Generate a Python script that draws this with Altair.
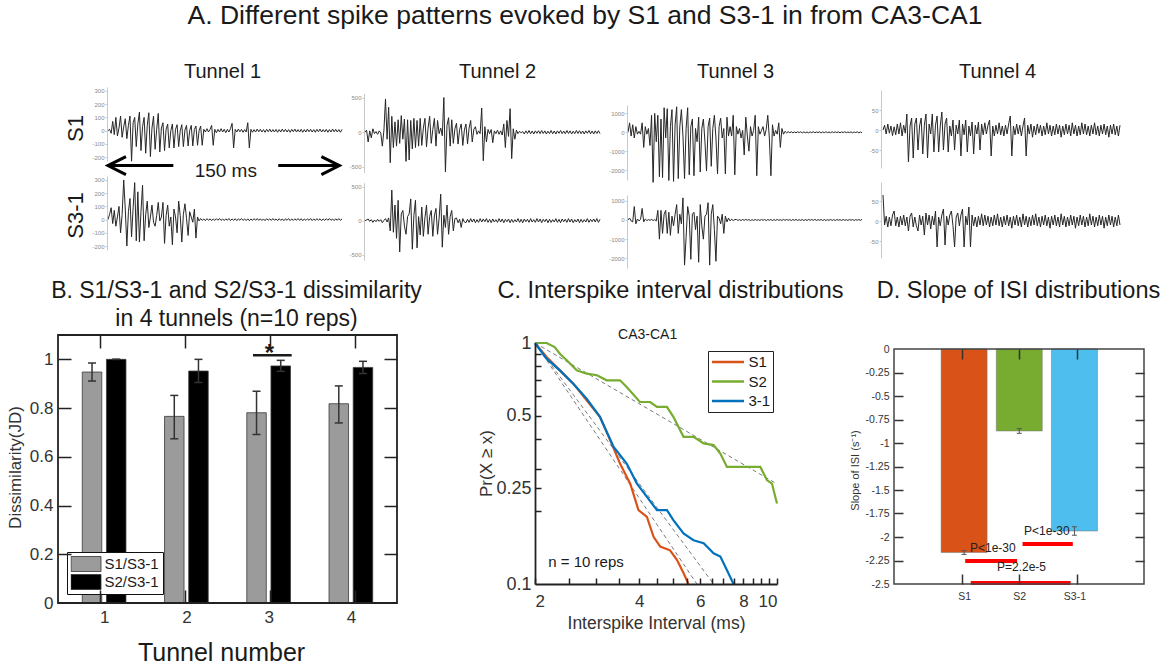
import altair as alt
import pandas as pd

FONT = "Liberation Sans"
W, H, TOP = 1170, 666, 40
INK = "#1a1a1a"

# ================= Panel A data: traces, one sample per ms (0-149 ms) =================
t1_s1 = [
    0, 10, -20, 70, -30, 100, -40, 20, 110, -50, 30, 90, -60, 40, 110,
    -230, 60, 100, -120, 50, 140, -150, 30, 100, -170, 40, 135, -195, 20, 110,
    -140, 10, 130, -160, 20, 60, -150, 10, 50, -130, 0, 50, -130, 10, 45,
    -120, 0, 45, -120, 5, 40, -115, 0, 40, -115, 10, 35, -110, 0, 35, -110,
    10, -10, 15, -10, 10, 40, -110, 10, -15, 10, -10, 15, -10, 10, -15,
    10, -10, 15, 55, -130, 10, -10, 12, -8, 10, -12, 8, -10, 60, -130,
    10, -12, 8, -10, 12, -8, 10, -10, 8, -12, 10, -8, 12, -10, 8,
    -10, 10, -12, 8, -10, 12, -8, 10, -10, 8, -12, 10, -8, 12, -10,
    8, -10, 10, -12, 8, -10, 12, -8, 10, -10, 8, -12, 10, -8, 12,
    -10, 8, -10, 10, -12, 8, -10, 12, -8, 10, -10, 8, -12, 10,
]
t1_s3 = [
    0, 40, 90, -30, 70, -50, 20, 100, -100, 40, 300, 80, -200, 60, 160,
    -130, 90, 280, -160, 210, -170, 60, 260, -160, 40, 140, -60, 20, 110, -20,
    -50, 30, 130, -10, 20, 130, -180, 30, 110, -50, 20, -190, 80, 20, -100,
    140, 30, -170, 40, 120, 10, -120, 60, 20, -20, 80, -140, 20, -10,
    8, -6, 5, -8, 7, -5, 6, -8, 5, -6, 7, -5, 8, -6, 5, -7, 6, -5, 8, -7,
    5, -6, 7, -8, 6, -5, 8, -6, 5, -7, 6, -8, 5, -6, 7, -5, 8, -6, 6, -7,
    5, -8, 7, -5, 6, -6, 8, -5, 5, -7, 7, -6, 5, -8, 6, -5, 8, -7, 5, -6,
    6, -5, 8, -6, 7, -8, 5, -6, 6, -5, 8, -7, 5, -6, 7, -5, 6, -8, 5, -6,
    7, -5, 8, -6, 5, -7, 6, -5, 8, -6, 5,
]
t2_s1 = [
    0, 30, -140, 20, -80, 50, -20, 10, -30, 20, -10, -200, 30, 480, -100,
    360, -440, 230, -220, 150, -200, 180, -160, 240, -100, 190, -420, 180, -400, 170,
    -240, 200, -220, 170, -200, 200, -190, 60, 200, -210, 60, 230, -160, 40, 200,
    -200, 170, -20, 60, -50, 500, -570, 100, 210, -200, 180, -160, 50, 130, -170,
    40, 120, -190, 30, 120, -170, 60, 170, -140, 40, 80, -30, 20, -20, 350,
    -410, 80, -140, 40, -20, 40, -150, 20, -20, 30, -30, 20, -40, 120, -220,
    170, -60, 340, -380, 50, -100, 30, -20, 15, -10, 10,
    -25, 20, -18, 25, -22, 18, -25, 20, -15, 22, -20, 25, -18, 20, -25, 15, -20,
    25, -22, 18, -25, 20, -15, 25, -20, 18, -22, 25, -18, 20, -25, 15, -20, 25,
    -18, 22, -20, 18, -25, 20, -15, 25, -22, 18, -25, 20, -18, 22, -20,
]
t2_s3 = [
    0, 10, 25, -10, 15, -25, 10, -15, 20, -10, 15, -30, 5, 30, -20,
    40, -150, 450, -170, 230, -260, 300, -460, 100, 150, -80, -200, 60, 100, 320,
    -420, 80, 300, -400, 60, -210, 200, -230, 40, 230, -200, 60, 150, -230, 70,
    180, -200, 40, 390, -390, 80, -100, 230, -200, 60, 150, -150, 30, 40, -30,
    20, -100, 30, -20,
    -30, 20, -25, 30, -20, 25, -30, 15, -25, 30, -20, 25, -15, 30, -25, 20, -30,
    25, -20, 15, -25, 30, -20, 25, -30, 20, -15, 25, -30, 20, -25, 15, -20, 30,
    -25, 20, -30, 25, -15, 20, -25, 30, -20, 15, -25, 30, -20, 25, -30, 20, -15,
    25, -30, 20, -25, 15, -20, 30, -25, 20, -30, 25, -15, 20, -25, 30, -20, 25,
    -30, 15, -20, 25, -30, 20, -25, 15, -20, 30, -25, 20, -15, 25, -20, 30, -25, 20,
]
t3_s1 = [
    0, 500, -200, 400, -300, 300, -100, 50, -100, 500, -800, 300, -100, 200, -700,
    900, -2650, 1000, -500, 900, -2350, 700, -2400, 1300, -300, 1250, -2550, 300, 1200, -2600,
    400, 1350, -2450, 300, 1200, -200, -2450, 200, 1300, -2250, 300, 700, -2300, 200, -500,
    800, -2100, 200, 700, -500, -2050, 300, 750, -1800, 200, 900, -300, -2200, 300, 750,
    -300, 200, -2200, 800, -200, 300, -200, 900, -2250, 300, -100, 200, -300, 100, -1200,
    800, -200, -1000, 300, -200, 100, 900, -2300, 300, -100, 100, 300, -200, 150, 900,
    -300, -2300, 400, -200, 100, -100, 500, -800, 200, -100, 50, -30,
    30, -20, 25, -30, 20, -25, 30, -15, 25, -30, 20, -25, 15, -30, 25, -20,
    30, -25, 20, -15, 25, -30, 20, -25, 30, -20, 15, -25, 30, -20, 25, -15,
    20, -30, 25, -20, 30, -25, 15, -20, 25, -30, 20, -15, 25, -30, 20, -25,
]
t3_s3 = [
    0, 100, -50, -100, 700, -200, 50, -50, 30, 600, -100, 50, -30, 20, -20,
    30, -30, 20, -50, 500, -1000, 500, -700, 300, 500, -700, 400, -800, 200, -300,
    300, 800, -700, 300, -200, 1150, -2350, -900, 700, 200, -2050, 300, 400, -500, 200,
    -2200, 800, -300, -1000, 200, 300, 900, -2350, 300, 800, -500, -2150, 200, 100, -200,
    300, -700, 200, -100, 100, -50, 40, -30, 20,
    30, -25, 20, -30, 25, -20, 30, -15, 25, -30, 20, -25, 30, -20, 15, -25, 30,
    -20, 25, -30, 20, -15, 25, -30, 20, -25, 30, -20, 15, -25, 30, -20, 25, -15,
    20, -30, 25, -20, 30, -25, 15, -20, 25, -30, 20, -25, 30, -15, 25, -20, 30,
    -25, 20, -15, 25, -30, 20, -25, 15, -20, 30, -25, 20, -30, 25, -15, 20, -25,
    30, -20, 15, -25, 30, -20, 25, -30, 20, -15, 25, -20, 30,
]
t4_s1 = [
    0, 12, -10, 15, -8, 10, -14, 8, -12, 15, -10, 18, -15, 12, -8,
    40, -80, 10, 30, -70, 15, 30, -50, 10, 30, -60, 12, 40, -70, 15,
    -10, 40, -55, 12, 35, -55, 10, 45, -50, 15, 30, -55, 10, -15, 25,
    -50, 12, -10, 25, -65, 15, -12, 25, -55, 10, -15, 20, -60, 12, -10,
    20, -50, 15, -12, 18, -10, 12, 25, -65, 10, -15, 12, -10, 18, -12,
    10, -15, 12, -10, 15, 35, -65, 10, -12, 15, -10, 12, -15, 10, 30,
    -65, 12, -10, 15, -18, 10, -12, 15, -8, 12, -15, 10, -12, 18, -10,
    12, -15, 10, -12, 15, -10, 12, -18, 10, -12, 15, -10, 12, -15, 18,
    -10, 12, -15, 10, -12, 18, -10, 15, -12, 10, -15, 12, -10, 18, -12,
    10, -15, 12, -10, 15, -12, 10, -18, 12, -10, 15, -12, 10, -15, 12,
]
t4_s3 = [
    65, -10, 12, -15, 10, -12, 15, 25, -12, 10, -15, 12, -10, 15, -12,
    10, -25, 12, 20, -15, 10, -12, -25, 15, -10, 12, -35, 20, -10, 15,
    -20, 12, -10, 25, -65, 10, -12, 15, 30, -60, 12, -10, 15, 25, -12,
    -65, 10, 20, -12, 15, 30, -65, 12, -10, 35, -65, 15, -12, 10, -15,
    12, -10, 18, -12, 15, -10, 12, -15, 10, -12, 15, -10, 18, -12, 10,
    -15, 12, -10, 15, -12, 10, -18, 12, -10, 15, -12, 10, -15, 18, -10,
    12, -15, 10, -12, 15, -10, 18, -12, 10, -15, 12, -10, 15, -12, 10,
    -18, 12, -10, 15, -12, 10, -15, 18, -10, 12, -15, 10, -12, 15, -10,
    12, -18, 10, -12, 15, -10, 12, -15, 10, -12, 18, -10, 12, -15, 10,
    -12, 15, -10, 12, -18, 10, -12, 15, -10, 12, -15, 10, -12, 15, -10,
]
t1_ticks = [300, 200, 100, 0, -100, -200]
t2_ticks = [500, 0, -500]
t3_ticks = [1000, 0, -1000, -2000]
t4_ticks = [50, 0, -50]
tunnel_titles = ["Tunnel 1", "Tunnel 2", "Tunnel 3", "Tunnel 4"]
row_titles = ["S1", "S3-1"]
arrow_label = "150 ms"

# ================= Panel B data =================
tunnels = [1, 2, 3, 4]
b_series = ["S1/S3-1", "S2/S3-1"]
b_s1_mean = [0.948, 0.766, 0.781, 0.818]
b_s1_lo = [0.911, 0.674, 0.692, 0.739]
b_s1_hi = [0.985, 0.852, 0.869, 0.891]
b_s2_mean = [1.0, 0.952, 0.973, 0.967]
b_s2_lo = [1.0, 0.905, 0.951, 0.942]
b_s2_hi = [1.0, 1.0, 0.996, 0.992]
b_colors = ["#9b9b9b", "#000000"]

# ================= Panel C data =================
c_s1_x = [2.0, 2.16, 2.36, 2.58, 2.82, 3.08, 3.30, 3.52, 3.77, 3.98, 4.21, 4.40, 4.60, 4.91, 5.14, 5.37, 5.55]
c_s1_y = [1.0, 0.875, 0.77, 0.678, 0.579, 0.494, 0.395, 0.316, 0.26, 0.2026, 0.19, 0.157, 0.143, 0.138, 0.126, 0.111, 0.1]
c_s2_x = [2.0, 2.16, 2.28, 2.36, 2.47, 2.64, 2.82, 3.02, 3.22, 3.52, 3.68, 4.02, 4.30, 4.50,
          4.81, 5.02, 5.37, 5.74, 6.14, 6.56, 6.86, 7.17, 7.83, 8.56, 8.95, 9.35, 9.67, 10.0]
c_s2_y = [1.0, 1.0, 0.962, 0.903, 0.848, 0.77, 0.746, 0.735, 0.70, 0.70, 0.657, 0.569, 0.569, 0.543,
          0.543, 0.494, 0.408, 0.408, 0.383, 0.377, 0.348, 0.306, 0.306, 0.306, 0.306, 0.27, 0.261, 0.216]
c_31_x = [2.0, 2.16, 2.36, 2.58, 2.82, 3.08, 3.37, 3.68, 3.94, 4.21, 4.50, 4.81, 5.02, 5.37, 5.74, 6.14, 6.56, 6.86, 7.17, 7.49]
c_31_y = [1.0, 0.861, 0.77, 0.678, 0.588, 0.494, 0.371, 0.316, 0.261, 0.23, 0.2026, 0.2026, 0.184, 0.162, 0.152, 0.1475, 0.134, 0.13, 0.114, 0.1]
c_names = ["S1", "S2", "3-1"]
c_colors = ["#D95319", "#77AC30", "#0072BD"]
fit_x0 = [2.0, 2.0, 2.0]
fit_y0 = [1.0, 1.0, 1.0]
fit_x1 = [5.87, 10.0, 6.56]
fit_y1 = [0.1, 0.26, 0.1]

# ================= Panel D data =================
d_cats = ["S1", "S2", "S3-1"]
d_pos = [1, 2, 3]
d_vals = [-2.165, -0.872, -1.936]
d_err = [0.02, 0.025, 0.045]
d_colors = ["#D95319", "#77AC30", "#4DBEEE"]
sig_x0 = [2.06, 1.02, 1.12]
sig_x1 = [2.97, 1.96, 2.93]
sig_y = [-2.074, -2.255, -2.49]
sig_text = ["P<1e-30", "P<1e-30", "P=2.2e-5"]
sig_tx = [2.50, 1.52, 2.04]
sig_ty = [-1.936, -2.117, -2.319]


# ================= helpers =================
def sc(domain, rng, **kw):
    return alt.Scale(domain=domain, range=rng, nice=False, zero=False, **kw)


def yr(bottom, top):
    return [bottom - TOP, top - TOP]


def axis(**kw):
    base = dict(grid=False, zindex=1)
    base.update(kw)
    return alt.Axis(**base)


def off_left(x):
    return -x


def off_right(x):
    return x - W


def off_top(y):
    return -(y - TOP)


def off_bottom(y):
    return y - H


NOAX = dict(labels=False, ticks=False, tickSize=0, domain=False)
NUM = "'' + datum.value"


def trace(vals, x0, x1, ydom, ybot, ytop, axis_x, ticks, col=None, row=None):
    df = pd.DataFrame({"t": list(range(len(vals))), "v": vals})
    xs = sc([0, len(vals) - 1], [x0, x1])
    ys = sc(ydom, yr(ybot, ytop))
    if col:
        xax = axis(orient="top", offset=off_top(88), minExtent=0, **NOAX,
                   title=col[0], titleX=col[1], titleY=-11, titleAlign="center",
                   titleBaseline="alphabetic", titleFontSize=20, titleFontWeight="normal",
                   titleColor=INK)
    else:
        xax = None
    ykw = dict(orient="left", offset=off_left(axis_x), values=ticks, labelExpr=NUM,
               labelFontSize=6, labelColor="#8a8a8a", labelPadding=1, tickSize=2,
               tickColor="#bbb", tickWidth=0.8, domainColor="#bbb", domainWidth=0.8)
    if row:
        ykw.update(title=row[0], titleX=row[1] - axis_x, titleY=row[2] - TOP, titleAngle=270,
                   titleAlign="center", titleBaseline="middle", titleFontSize=22,
                   titleFontWeight="normal", titleColor=INK)
    else:
        ykw.update(title=None)
    yax = axis(**ykw)
    ch = alt.Chart(df).mark_line(color="#262626", strokeWidth=1.0).encode(
        x=alt.X("t:Q", scale=xs, axis=xax),
        y=alt.Y("v:Q", scale=ys, axis=yax),
    )
    return ch, xs, ys, xax, yax


# ================= Panel A =================
A1, xs1, ys1, xa1, ya1 = trace(t1_s1, 108, 342, [-230, 330], 161.2, 86.9, 107, t1_ticks,
                               col=(tunnel_titles[0], 222), row=(row_titles[0], 75, 128))
A2 = trace(t1_s3, 108, 342, [-230, 330], 250.0, 176.0, 107, t1_ticks, row=(row_titles[1], 75, 215))[0]
A3 = trace(t2_s1, 365, 600, [-580, 560], 172.5, 93.4, 364, t2_ticks, col=(tunnel_titles[1], 497))[0]
A4 = trace(t2_s3, 365, 600, [-580, 560], 260.1, 182.6, 364, t2_ticks)[0]
A5 = trace(t3_s1, 628, 862, [-2520, 1450], 179.9, 104.9, 627, t3_ticks, col=(tunnel_titles[2], 735))[0]
A6 = trace(t3_s3, 628, 862, [-2500, 1300], 268.0, 195.0, 627, t3_ticks)[0]
A7 = trace(t4_s1, 883, 1120, [-95, 100], 168.0, 90.0, 881, t4_ticks, col=(tunnel_titles[3], 997))[0]
A8 = trace(t4_s3, 883, 1120, [-92, 97], 257.8, 182.2, 881, t4_ticks)[0]

arrow_v = -263
arrow_df = pd.DataFrame({"t0": [0.5, 108.4], "t1": [41.6, 147.0], "v": [arrow_v, arrow_v]})
shafts = alt.Chart(arrow_df).mark_rule(color="black", strokeWidth=3).encode(
    x=alt.X("t0:Q", scale=xs1, axis=xa1), x2="t1:Q", y=alt.Y("v:Q", scale=ys1, axis=ya1))
headL = alt.Chart(pd.DataFrame({"t": [5.7], "v": [arrow_v]})).mark_point(
    shape="M1,-1L-1,0L1,1", size=324, filled=False, strokeWidth=3, color="black", opacity=1
).encode(x=alt.X("t:Q", scale=xs1, axis=xa1), y=alt.Y("v:Q", scale=ys1, axis=ya1))
headR = alt.Chart(pd.DataFrame({"t": [141.6], "v": [arrow_v]})).mark_point(
    shape="M-1,-1L1,0L-1,1", size=324, filled=False, strokeWidth=3, color="black", opacity=1
).encode(x=alt.X("t:Q", scale=xs1, axis=xa1), y=alt.Y("v:Q", scale=ys1, axis=ya1))
arrow_txt = alt.Chart(pd.DataFrame({"t": [75], "v": [-352], "s": [arrow_label]})).mark_text(
    fontSize=19, baseline="alphabetic", align="center", color=INK
).encode(x=alt.X("t:Q", scale=xs1, axis=xa1), y=alt.Y("v:Q", scale=ys1, axis=ya1), text="s:N")
A1 = alt.layer(A1, shafts, headL, headR, arrow_txt)

# ================= Panel B =================
xB = sc([0.5, 4.5], [58, 397])
yB = sc([0, 1.1], yr(603, 335))
B_OFF = 0.147
bx_axis = axis(
    orient="bottom", offset=off_bottom(603), values=tunnels, labelFontSize=17, labelColor="#333",
    labelPadding=6, ticks=False, tickSize=0, domain=False, title="Tunnel number", titleX=221, titleY=57,
    titleAlign="center", titleBaseline="alphabetic", titleFontSize=25, titleFontWeight="normal",
    titleColor=INK)
by_axis = axis(
    orient="left", offset=off_left(58), values=[0, 0.2, 0.4, 0.6, 0.8, 1], labelExpr=NUM,
    labelFontSize=17, labelColor="#333", labelPadding=5, ticks=False, tickSize=0, domain=False,
    title="Dissimilarity(JD)", titleX=15.5 - 58, titleY=467 - TOP, titleAngle=270, titleAlign="center",
    titleBaseline="middle", titleFontSize=17, titleFontWeight="normal", titleColor="#333")
df_b = pd.DataFrame({
    "tunnel": tunnels * 2,
    "series": [b_series[0]] * 4 + [b_series[1]] * 4,
    "mean": b_s1_mean + b_s2_mean,
    "lo": b_s1_lo + b_s2_lo,
    "hi": b_s1_hi + b_s2_hi,
})
bbase = alt.Chart(df_b).transform_calculate(
    xpos=f"datum.tunnel + (datum.series == '{b_series[0]}' ? -{B_OFF} : {B_OFF})", zero="0")
b_bars = bbase.mark_bar(orient="vertical", size=19.5, stroke="#3a3a3a", strokeWidth=0.8).encode(
    x=alt.X("xpos:Q", scale=xB, axis=bx_axis),
    y=alt.Y("mean:Q", scale=yB, stack=None, axis=by_axis),
    y2="zero:Q",
    color=alt.Color("series:N", scale=alt.Scale(domain=b_series, range=b_colors), legend=alt.Legend(
        orient="none", legendX=67, legendY=552 - TOP, title=None, symbolType="M-1,-0.5H1V0.5H-1Z",
        symbolSize=900, clipHeight=17, rowPadding=1, padding=3.5, labelOffset=3, labelFontSize=15,
        labelColor=INK, strokeColor="#111", fillColor="white", symbolStrokeColor="#333",
        symbolStrokeWidth=0.8)),
)
b_err = bbase.mark_rule(color="#333", strokeWidth=1.5).encode(
    x=alt.X("xpos:Q", scale=xB, axis=bx_axis), y=alt.Y("lo:Q", scale=yB, axis=by_axis), y2="hi:Q")
b_cap_lo = bbase.mark_tick(orient="horizontal", size=8, thickness=1.5, color="#333", opacity=1).encode(
    x=alt.X("xpos:Q", scale=xB, axis=bx_axis), y=alt.Y("lo:Q", scale=yB, axis=by_axis))
b_cap_hi = bbase.mark_tick(orient="horizontal", size=8, thickness=1.5, color="#333", opacity=1).encode(
    x=alt.X("xpos:Q", scale=xB, axis=bx_axis), y=alt.Y("hi:Q", scale=yB, axis=by_axis))
star_line = alt.Chart(pd.DataFrame({"x0": [2.81], "x1": [3.28], "y": [1.017]})).mark_rule(
    color=INK, strokeWidth=2.5).encode(
    x=alt.X("x0:Q", scale=xB, axis=bx_axis), x2="x1:Q", y=alt.Y("y:Q", scale=yB, axis=by_axis))
star_txt = alt.Chart(pd.DataFrame({"x": [3.01], "y": [0.995], "s": ["*"]})).mark_text(
    fontSize=24, fontWeight="bold", baseline="alphabetic", align="center", color=INK).encode(
    x=alt.X("x:Q", scale=xB, axis=bx_axis), y=alt.Y("y:Q", scale=yB, axis=by_axis), text="s:N")
B_main = alt.layer(b_bars, b_err, b_cap_lo, b_cap_hi, star_line, star_txt)

B_frame = alt.Chart(pd.DataFrame({"x0": [0.5], "x1": [4.5], "y0": [0.0], "y1": [1.1]})).mark_rect(
    fillOpacity=0, stroke="#222", strokeWidth=1.8).encode(
    x=alt.X("x0:Q", scale=xB, axis=axis(
        orient="bottom", offset=off_bottom(335), values=tunnels, labels=False, domain=False, tickSize=13,
        tickColor="#222", tickWidth=1.5,
        title=["B. S1/S3-1 and S2/S3-1 dissimilarity", "in 4 tunnels (n=10 reps)"], titleX=236, titleY=-38,
        titleAlign="center", titleBaseline="alphabetic", titleFontSize=23, titleLineHeight=28,
        titleFontWeight="normal", titleColor=INK)),
    x2="x1:Q",
    y=alt.Y("y0:Q", scale=yB, axis=axis(
        orient="left", offset=off_left(397), values=[0.2, 0.4, 0.6, 0.8, 1.0], labels=False, domain=False,
        tickSize=13, tickColor="#222", tickWidth=1.5, title=None)),
    y2="y1:Q",
)
B_frame2 = alt.Chart(pd.DataFrame({"x": [0.5], "y": [0.0]})).mark_point(opacity=0).encode(
    x=alt.X("x:Q", scale=xB, axis=axis(
        orient="top", offset=off_top(603), values=tunnels, labels=False, domain=False, tickSize=13,
        tickColor="#222", tickWidth=1.5, title=None)),
    y=alt.Y("y:Q", scale=yB, axis=axis(
        orient="right", offset=off_right(58), values=[0.2, 0.4, 0.6, 0.8, 1.0], labels=False, domain=False,
        tickSize=13, tickColor="#222", tickWidth=1.5, title=None)),
)

# ================= Panel C =================
xC = sc([2, 10], [535, 777], type="log")
yC = sc([0.1, 1], yr(584, 343), type="log")
cx_axis = axis(
    orient="bottom", offset=off_bottom(584), values=[2, 4, 6, 8, 10], labelExpr=NUM, labelFontSize=17,
    labelColor="#333", labelPadding=9, ticks=False, tickSize=0, domain=True, domainColor="#222",
    domainWidth=1.8, title="Interspike Interval (ms)", titleX=656, titleY=44, titleAlign="center",
    titleBaseline="alphabetic", titleFontSize=17.5, titleFontWeight="normal", titleColor="#333")
cy_axis = axis(
    orient="left", offset=off_left(535), values=[0.1, 0.25, 0.5, 1], labelExpr=NUM, labelFontSize=18,
    labelColor="#333", labelPadding=4, ticks=False, tickSize=0, domain=True, domainColor="#222",
    domainWidth=1.8, title="Pr(X \u2265 x)", titleX=486.7 - 535, titleY=463 - TOP, titleAngle=270,
    titleAlign="center", titleBaseline="middle", titleFontSize=17, titleFontWeight="normal",
    titleColor="#333")
rows = []
for name, xs_, ys_ in zip(c_names, [c_s1_x, c_s2_x, c_31_x], [c_s1_y, c_s2_y, c_31_y]):
    for i, (a, b) in enumerate(zip(xs_, ys_)):
        rows.append({"series": name, "i": i, "x": a, "y": b})
df_c = pd.DataFrame(rows)
frows = []
for k in range(len(fit_x0)):
    frows.append({"fit": k, "i": 0, "x": fit_x0[k], "y": fit_y0[k]})
    frows.append({"fit": k, "i": 1, "x": fit_x1[k], "y": fit_y1[k]})
df_fit = pd.DataFrame(frows)

c_fits = alt.Chart(df_fit).mark_line(strokeDash=[4, 3], color="#7a7a7a", strokeWidth=1).encode(
    x=alt.X("x:Q", scale=xC, axis=cx_axis), y=alt.Y("y:Q", scale=yC, axis=cy_axis), detail="fit:N",
    order="i:Q")
c_lines = alt.Chart(df_c).mark_line(strokeWidth=2.2).encode(
    x=alt.X("x:Q", scale=xC, axis=cx_axis),
    y=alt.Y("y:Q", scale=yC, axis=cy_axis),
    color=alt.Color("series:N", scale=alt.Scale(domain=c_names, range=c_colors), legend=alt.Legend(
        orient="none", legendX=708, legendY=351 - TOP, title=None, symbolType="stroke", symbolSize=1024,
        symbolStrokeWidth=2.5, clipHeight=17, rowPadding=2.5, padding=2.5, labelOffset=3, labelFontSize=15,
        labelColor=INK, strokeColor="#222", fillColor="white")),
    order="i:Q",
)
c_text = alt.Chart(pd.DataFrame({"x": [4.23, 2.185], "y": [1.039, 0.118], "s": ["CA3-CA1", "n = 10 reps"],
                                 "a": ["center", "left"]}))
c_t1 = c_text.transform_filter("datum.a == 'center'").mark_text(
    fontSize=14, align="center", baseline="alphabetic", color=INK).encode(
    x=alt.X("x:Q", scale=xC, axis=cx_axis), y=alt.Y("y:Q", scale=yC, axis=cy_axis), text="s:N")
c_t2 = c_text.transform_filter("datum.a == 'left'").mark_text(
    fontSize=15, align="left", baseline="alphabetic", color=INK).encode(
    x=alt.X("x:Q", scale=xC, axis=cx_axis), y=alt.Y("y:Q", scale=yC, axis=cy_axis), text="s:N")
C_main = alt.layer(c_fits, c_lines, c_t1, c_t2)

C_ticks = alt.Chart(pd.DataFrame({"x": [2.0], "y": [0.1]})).mark_point(opacity=0).encode(
    x=alt.X("x:Q", scale=xC, axis=axis(
        orient="top", offset=off_top(584), values=[2, 2.5, 3, 3.5, 4, 4.5, 5, 5.5, 6, 6.5, 7, 7.5, 8, 8.5, 9, 9.5, 10],
        labels=False, domain=False, tickSize=6, tickColor="#222", tickWidth=1.5,
        title="C. Interspike interval distributions", titleX=670, titleY=297 - 584, titleAlign="center",
        titleBaseline="alphabetic", titleFontSize=23.5, titleFontWeight="normal", titleColor=INK)),
    y=alt.Y("y:Q", scale=yC, axis=axis(
        orient="right", offset=off_right(535), values=[0.2, 0.25, 0.3, 0.4, 0.5, 0.6, 0.7, 0.8, 0.9],
        labels=False, domain=False, tickSize=6, tickColor="#222", tickWidth=1.5, title=None)),
)

# ================= Panel D =================
xD = sc([-0.18, 4.17], [894, 1144])
yD = sc([-2.5, 0], yr(584, 349))
d_ticks = [0, -0.25, -0.5, -0.75, -1, -1.25, -1.5, -1.75, -2, -2.25, -2.5]
d_label_expr = " : ".join(
    [f"datum.value == {p} ? '{c}'" for p, c in zip(d_pos[:-1], d_cats[:-1])] + [f"'{d_cats[-1]}'"])
dx_axis = axis(
    orient="bottom", offset=off_bottom(584), values=d_pos, labelExpr=d_label_expr, labelFontSize=10.5,
    labelColor="#333", labelPadding=7, ticks=False, tickSize=0, domain=False, title=None)
dy_axis = axis(
    orient="left", offset=off_left(894), values=d_ticks, labelExpr=NUM, labelFontSize=10.5,
    labelColor="#333", labelPadding=5, ticks=False, tickSize=0, domain=False,
    title="Slope of ISI (s\u207b\u00b9)", titleX=855 - 894, titleY=470 - TOP, titleAngle=270,
    titleAlign="center", titleBaseline="middle", titleFontSize=11, titleFontWeight="normal",
    titleColor="#333")
df_d = pd.DataFrame({"cat": d_cats, "pos": d_pos, "val": d_vals, "err": d_err})
dbase = alt.Chart(df_d).transform_calculate(
    zero="0", lo="datum.val - datum.err", hi="datum.val + datum.err")
d_bars = dbase.mark_bar(orient="vertical", size=46, stroke="#777", strokeWidth=0.5).encode(
    x=alt.X("pos:Q", scale=xD, axis=dx_axis),
    y=alt.Y("val:Q", scale=yD, stack=None, axis=dy_axis),
    y2="zero:Q",
    color=alt.Color("cat:N", scale=alt.Scale(domain=d_cats, range=d_colors), legend=None),
)
d_err_r = dbase.mark_rule(color="#555", strokeWidth=1).encode(
    x=alt.X("pos:Q", scale=xD, axis=dx_axis), y=alt.Y("lo:Q", scale=yD, axis=dy_axis), y2="hi:Q")
d_cap_lo = dbase.mark_tick(orient="horizontal", size=5, thickness=1, color="#555", opacity=1).encode(
    x=alt.X("pos:Q", scale=xD, axis=dx_axis), y=alt.Y("lo:Q", scale=yD, axis=dy_axis))
d_cap_hi = dbase.mark_tick(orient="horizontal", size=5, thickness=1, color="#555", opacity=1).encode(
    x=alt.X("pos:Q", scale=xD, axis=dx_axis), y=alt.Y("hi:Q", scale=yD, axis=dy_axis))
df_sig = pd.DataFrame({"x0": sig_x0, "x1": sig_x1, "y": sig_y, "s": sig_text, "tx": sig_tx, "ty": sig_ty})
d_sig = alt.Chart(df_sig).mark_rule(color="#FF0000", strokeWidth=4).encode(
    x=alt.X("x0:Q", scale=xD, axis=dx_axis), x2="x1:Q", y=alt.Y("y:Q", scale=yD, axis=dy_axis))
d_sig_t = alt.Chart(df_sig).mark_text(fontSize=12, align="center", baseline="middle", color="#222").encode(
    x=alt.X("tx:Q", scale=xD, axis=dx_axis), y=alt.Y("ty:Q", scale=yD, axis=dy_axis), text="s:N")
D_main = alt.layer(d_bars, d_err_r, d_cap_lo, d_cap_hi, d_sig, d_sig_t)

D_frame = alt.Chart(pd.DataFrame({"x0": [-0.18], "x1": [4.17], "y0": [-2.5], "y1": [0.0]})).mark_rect(
    fillOpacity=0, stroke="#444", strokeWidth=1.5).encode(
    x=alt.X("x0:Q", scale=xD, axis=axis(
        orient="bottom", offset=off_bottom(349), values=d_pos, labels=False, domain=False, tickSize=10,
        tickColor="#333", tickWidth=1.5, title="D. Slope of ISI distributions", titleX=1018, titleY=297 - 349,
        titleAlign="center", titleBaseline="alphabetic", titleFontSize=23.5, titleFontWeight="normal",
        titleColor=INK)),
    x2="x1:Q",
    y=alt.Y("y0:Q", scale=yD, axis=axis(
        orient="left", offset=off_left(1144), values=d_ticks[1:-1], labels=False, domain=False, tickSize=9,
        tickColor="#333", tickWidth=1.5, title=None)),
    y2="y1:Q",
)
D_frame2 = alt.Chart(pd.DataFrame({"x": [1.0], "y": [-1.0]})).mark_point(opacity=0).encode(
    x=alt.X("x:Q", scale=xD, axis=axis(
        orient="top", offset=off_top(584), values=d_pos, labels=False, domain=False, tickSize=10,
        tickColor="#333", tickWidth=1.5, title=None)),
    y=alt.Y("y:Q", scale=yD, axis=axis(
        orient="right", offset=off_right(894), values=d_ticks[1:-1], labels=False, domain=False, tickSize=9,
        tickColor="#333", tickWidth=1.5, title=None)),
)

layers = [A1, A2, A3, A4, A5, A6, A7, A8, B_main, B_frame, B_frame2, C_main, C_ticks, D_main, D_frame, D_frame2]

chart = (
    alt.layer(*layers)
    .resolve_scale(x="independent", y="independent", color="independent")
    .properties(
        width=W, height=H - TOP,
        padding={"left": 0, "right": 0, "top": TOP, "bottom": 0},
        autosize=alt.AutoSizeParams(type="none"),
        title=alt.TitleParams(
            text="A. Different spike patterns evoked by S1 and S3-1 in from CA3-CA1",
            fontSize=26.5, fontWeight="normal", font=FONT, anchor="middle", frame="group",
            baseline="alphabetic", offset=-10, color=INK),
    )
    .configure(font=FONT)
    .configure_view(strokeWidth=0)
    .configure_axis(labelFont=FONT, titleFont=FONT)
    .configure_legend(labelFont=FONT)
)

chart.save("out.html", embed_options={"renderer": "svg", "actions": False})
